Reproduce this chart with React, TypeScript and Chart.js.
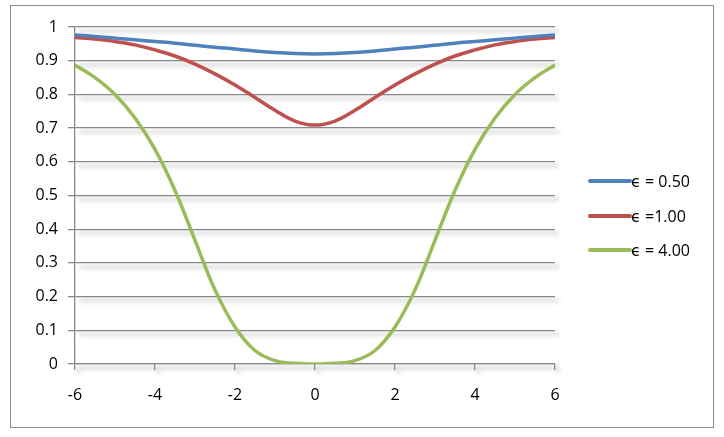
import React, { useEffect, useRef } from "react";
import { Chart, registerables } from "chart.js";

Chart.register(...registerables);

const xValues = [-6, -5.5, -5, -4.5, -4, -3.5, -3, -2.5, -2, -1.5, -1, -0.5, 0, 0.5, 1, 1.5, 2, 2.5, 3, 3.5, 4, 4.5, 5, 5.5, 6];
const eps050 = [0.976, 0.972, 0.967, 0.962, 0.957, 0.952, 0.946, 0.94, 0.935, 0.929, 0.924, 0.921, 0.92, 0.921, 0.924, 0.929, 0.935, 0.94, 0.946, 0.952, 0.957, 0.962, 0.967, 0.972, 0.976];
const eps100 = [0.969, 0.964, 0.957, 0.947, 0.932, 0.914, 0.89, 0.861, 0.828, 0.791, 0.753, 0.721, 0.709, 0.721, 0.753, 0.791, 0.828, 0.861, 0.89, 0.914, 0.932, 0.947, 0.957, 0.964, 0.969];
const eps400 = [0.887, 0.85, 0.8, 0.73, 0.637, 0.515, 0.367, 0.22, 0.11, 0.04, 0.01, 0.002, 0, 0.002, 0.01, 0.04, 0.11, 0.22, 0.367, 0.515, 0.637, 0.73, 0.8, 0.85, 0.887];
const seriesLabels = ["ϵ = 0.50", "ϵ =1.00", "ϵ = 4.00"];
const seriesColors = ["#4F81BD", "#C0504D", "#9BBB59"];

const FONT = "'Open Sans', 'DejaVu Sans', sans-serif";

const shadowPlugin = {
  id: "gridShadow",
  beforeDraw(chart: any) {
    const { ctx, chartArea, scales } = chart;
    const y = scales.y;
    const x = scales.x;
    ctx.save();
    ctx.filter = "blur(2px)";
    ctx.strokeStyle = "rgba(0,0,0,0.16)";
    ctx.lineWidth = 3;
    ctx.beginPath();
    y.ticks.forEach((t: any) => {
      const py = y.getPixelForValue(t.value) + 4;
      ctx.moveTo(chartArea.left + 4, py);
      ctx.lineTo(chartArea.right + 4, py);
    });
    x.ticks.forEach((t: any) => {
      const px = x.getPixelForValue(t.value) + 3;
      ctx.moveTo(px, chartArea.bottom + 3);
      ctx.lineTo(px, chartArea.bottom + 9);
    });
    ctx.stroke();
    ctx.restore();
  },
};

const legendPlugin = {
  id: "sideLegend",
  afterDraw(chart: any) {
    const { ctx } = chart;
    const startX = 590;
    const lineLen = 40;
    const rowY = [181, 216, 250];
    ctx.save();
    chart.data.datasets.forEach((ds: any, i: number) => {
      const yy = rowY[i];
      ctx.strokeStyle = ds.borderColor;
      ctx.lineWidth = 4;
      ctx.lineCap = "round";
      ctx.beginPath();
      ctx.moveTo(startX, yy);
      ctx.lineTo(startX + lineLen, yy);
      ctx.stroke();
      ctx.fillStyle = "#000";
      ctx.font = `16px ${FONT}`;
      ctx.textBaseline = "middle";
      ctx.textAlign = "left";
      ctx.fillText(ds.label, startX + lineLen + 1, yy + 1);
    });
    ctx.restore();
  },
};

export default function App() {
  const ref = useRef<HTMLCanvasElement | null>(null);

  useEffect(() => {
    if (!ref.current) return;
    const series = [eps050, eps100, eps400];
    const chart = new Chart(ref.current, {
      type: "line",
      data: {
        datasets: series.map((vals, i) => ({
          label: seriesLabels[i],
          data: xValues.map((xv, j) => ({ x: xv, y: vals[j] })),
          borderColor: seriesColors[i],
          backgroundColor: seriesColors[i],
          borderWidth: 3.5,
          pointRadius: 0,
          tension: 0.4,
          fill: false,
        })),
      },
      options: {
        animation: false,
        responsive: false,
        maintainAspectRatio: false,
        layout: { padding: { left: 0, top: 27, right: 169, bottom: 0 } },
        plugins: {
          legend: { display: false },
          tooltip: { enabled: false },
        },
        scales: {
          x: {
            type: "linear",
            min: -6,
            max: 6,
            afterFit: (s: any) => {
              s.height = 73;
            },
            ticks: {
              stepSize: 2,
              color: "#000",
              padding: 16,
              font: { size: 16, family: FONT },
              maxRotation: 0,
            },
            grid: {
              drawOnChartArea: false,
              drawTicks: true,
              tickLength: 6,
              color: "#888888",
              lineWidth: 1.3,
            },
            border: { display: true, color: "#888888", width: 1.3 },
          },
          y: {
            type: "linear",
            min: 0,
            max: 1,
            afterFit: (s: any) => {
              s.width = 75;
            },
            ticks: {
              stepSize: 0.1,
              color: "#000",
              padding: 10,
              font: { size: 16, family: FONT },
              callback: (v: any) => String(Number(Number(v).toFixed(1))),
            },
            grid: {
              drawOnChartArea: true,
              drawTicks: true,
              tickLength: 7,
              color: "#888888",
              lineWidth: 1.3,
            },
            border: { display: true, color: "#888888", width: 1.3 },
          },
        },
      },
      plugins: [shadowPlugin, legendPlugin],
    });
    return () => chart.destroy();
  }, []);

  return (
    <div style={{ position: "fixed", left: 0, top: 0, width: 724, height: 437, background: "#fff" }}>
      <div
        style={{
          position: "absolute",
          left: 10,
          top: 5,
          width: 702,
          height: 421,
          border: "1.5px solid #8e8e8e",
        }}
      />
      <canvas ref={ref} width={724} height={437} style={{ position: "absolute", left: 0, top: 0, width: 724, height: 437 }} />
    </div>
  );
}
